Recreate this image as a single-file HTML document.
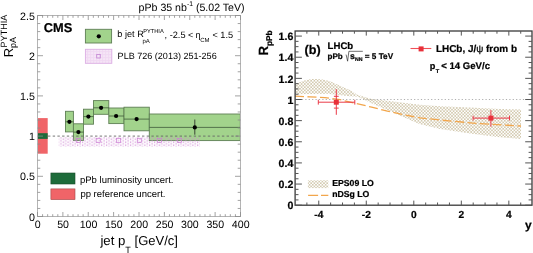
<!DOCTYPE html>
<html><head><meta charset="utf-8"><style>
html,body{margin:0;padding:0;background:#fff;width:533px;height:253px;overflow:hidden}
svg{display:block;will-change:transform}
text{font-family:"Liberation Sans",sans-serif;fill:#000;text-rendering:geometricPrecision}
text[font-weight="bold"]{stroke:#000;stroke-width:0.22px}
</style></head><body>
<svg width="533" height="253" viewBox="0 0 533 253">
<defs>
<pattern id="pinkdots" width="4.8" height="3" patternUnits="userSpaceOnUse" x="0.3" y="0.6">
<rect x="0" y="0" width="1.2" height="1.2" fill="#d088d4"/><rect x="2.4" y="1.5" width="1.2" height="1.2" fill="#d088d4"/>
</pattern>
<pattern id="pinkdense" width="3" height="3" patternUnits="userSpaceOnUse" x="0.5" y="0.5">
<rect x="0" y="0" width="3" height="3" fill="#f0d8f2"/><rect x="1" y="1" width="1.2" height="1.2" fill="#fff"/>
</pattern>
<pattern id="khaki" width="3.2" height="3.2" patternUnits="userSpaceOnUse">
<rect x="0" y="0" width="1.6" height="1.6" fill="#d3cab0"/><rect x="1.6" y="1.6" width="1.6" height="1.6" fill="#d3cab0"/>
</pattern>
</defs>
<rect x="37.5" y="118.1" width="10.2" height="35.6" fill="#f06468"/>
<rect x="37.5" y="133.2" width="10.2" height="5.7" fill="#1d6b3a"/>
<rect x="65.5" y="111.3" width="7.9" height="20.6" fill="#a2d38c" stroke="#5f7f55" stroke-width="0.9"/>
<rect x="73.4" y="123.8" width="10.1" height="16.6" fill="#a2d38c" stroke="#5f7f55" stroke-width="0.9"/>
<rect x="83.5" y="109.2" width="10.0" height="15.0" fill="#a2d38c" stroke="#5f7f55" stroke-width="0.9"/>
<rect x="93.5" y="100.6" width="15.3" height="13.7" fill="#a2d38c" stroke="#5f7f55" stroke-width="0.9"/>
<rect x="108.8" y="108.0" width="15.2" height="15.6" fill="#a2d38c" stroke="#5f7f55" stroke-width="0.9"/>
<rect x="124.0" y="107.2" width="25.3" height="23.6" fill="#a2d38c" stroke="#5f7f55" stroke-width="0.9"/>
<rect x="149.3" y="114.0" width="91.0" height="26.6" fill="#a2d38c" stroke="#5f7f55" stroke-width="0.9"/>
<rect x="58.8" y="137" width="141.1" height="9.6" fill="url(#pinkdots)"/>
<line x1="48" y1="136.1" x2="240.5" y2="136.1" stroke="#666" stroke-width="0.9" stroke-dasharray="2.4 2.3"/>
<line x1="65.5" y1="121.8" x2="73.4" y2="121.8" stroke="#3f5a3a" stroke-width="0.8"/>
<line x1="73.4" y1="132.1" x2="83.5" y2="132.1" stroke="#3f5a3a" stroke-width="0.8"/>
<line x1="83.5" y1="116.6" x2="93.5" y2="116.6" stroke="#3f5a3a" stroke-width="0.8"/>
<line x1="93.5" y1="107.8" x2="108.8" y2="107.8" stroke="#3f5a3a" stroke-width="0.8"/>
<line x1="108.8" y1="116.0" x2="124.0" y2="116.0" stroke="#3f5a3a" stroke-width="0.8"/>
<line x1="124.0" y1="119.1" x2="149.3" y2="119.1" stroke="#3f5a3a" stroke-width="0.8"/>
<line x1="149.3" y1="127.4" x2="240.3" y2="127.4" stroke="#3f5a3a" stroke-width="0.8"/>
<rect x="76.3" y="138.3" width="4.2" height="4.2" fill="none" stroke="#cc80d4" stroke-width="0.7"/>
<rect x="96.1" y="138.3" width="4.2" height="4.2" fill="none" stroke="#cc80d4" stroke-width="0.7"/>
<rect x="116.5" y="138.3" width="4.2" height="4.2" fill="none" stroke="#cc80d4" stroke-width="0.7"/>
<rect x="137.3" y="138.3" width="4.2" height="4.2" fill="none" stroke="#cc80d4" stroke-width="0.7"/>
<rect x="157.3" y="138.3" width="4.2" height="4.2" fill="none" stroke="#cc80d4" stroke-width="0.7"/>
<rect x="177.4" y="138.3" width="4.2" height="4.2" fill="none" stroke="#cc80d4" stroke-width="0.7"/>
<line x1="194.8" y1="119.5" x2="194.8" y2="134.7" stroke="#222" stroke-width="0.8"/>
<circle cx="69.4" cy="121.8" r="2.1" fill="#000"/>
<circle cx="78.4" cy="132.1" r="2.1" fill="#000"/>
<circle cx="88.4" cy="116.6" r="2.1" fill="#000"/>
<circle cx="101.1" cy="107.8" r="2.1" fill="#000"/>
<circle cx="116.1" cy="116.0" r="2.1" fill="#000"/>
<circle cx="136.6" cy="119.1" r="2.1" fill="#000"/>
<circle cx="194.8" cy="127.4" r="2.1" fill="#000"/>
<rect x="37.5" y="15.5" width="203.0" height="201.0" fill="none" stroke="#b4b4b4" stroke-width="1"/>
<path d="M37.50 216.5v-4.5M37.50 15.5v4.5M42.58 216.5v-2.3M42.58 15.5v2.3M47.65 216.5v-2.3M47.65 15.5v2.3M52.73 216.5v-2.3M52.73 15.5v2.3M57.80 216.5v-2.3M57.80 15.5v2.3M62.88 216.5v-4.5M62.88 15.5v4.5M67.95 216.5v-2.3M67.95 15.5v2.3M73.03 216.5v-2.3M73.03 15.5v2.3M78.10 216.5v-2.3M78.10 15.5v2.3M83.17 216.5v-2.3M83.17 15.5v2.3M88.25 216.5v-4.5M88.25 15.5v4.5M93.33 216.5v-2.3M93.33 15.5v2.3M98.40 216.5v-2.3M98.40 15.5v2.3M103.47 216.5v-2.3M103.47 15.5v2.3M108.55 216.5v-2.3M108.55 15.5v2.3M113.62 216.5v-4.5M113.62 15.5v4.5M118.70 216.5v-2.3M118.70 15.5v2.3M123.78 216.5v-2.3M123.78 15.5v2.3M128.85 216.5v-2.3M128.85 15.5v2.3M133.93 216.5v-2.3M133.93 15.5v2.3M139.00 216.5v-4.5M139.00 15.5v4.5M144.07 216.5v-2.3M144.07 15.5v2.3M149.15 216.5v-2.3M149.15 15.5v2.3M154.22 216.5v-2.3M154.22 15.5v2.3M159.30 216.5v-2.3M159.30 15.5v2.3M164.38 216.5v-4.5M164.38 15.5v4.5M169.45 216.5v-2.3M169.45 15.5v2.3M174.53 216.5v-2.3M174.53 15.5v2.3M179.60 216.5v-2.3M179.60 15.5v2.3M184.68 216.5v-2.3M184.68 15.5v2.3M189.75 216.5v-4.5M189.75 15.5v4.5M194.82 216.5v-2.3M194.82 15.5v2.3M199.90 216.5v-2.3M199.90 15.5v2.3M204.97 216.5v-2.3M204.97 15.5v2.3M210.05 216.5v-2.3M210.05 15.5v2.3M215.12 216.5v-4.5M215.12 15.5v4.5M220.20 216.5v-2.3M220.20 15.5v2.3M225.28 216.5v-2.3M225.28 15.5v2.3M230.35 216.5v-2.3M230.35 15.5v2.3M235.43 216.5v-2.3M235.43 15.5v2.3M240.50 216.5v-4.5M240.50 15.5v4.5M37.5 216.50h5.5M240.5 216.50h-5.5M37.5 208.46h2.8M240.5 208.46h-2.8M37.5 200.42h2.8M240.5 200.42h-2.8M37.5 192.38h2.8M240.5 192.38h-2.8M37.5 184.34h2.8M240.5 184.34h-2.8M37.5 176.30h5.5M240.5 176.30h-5.5M37.5 168.26h2.8M240.5 168.26h-2.8M37.5 160.22h2.8M240.5 160.22h-2.8M37.5 152.18h2.8M240.5 152.18h-2.8M37.5 144.14h2.8M240.5 144.14h-2.8M37.5 136.10h5.5M240.5 136.10h-5.5M37.5 128.06h2.8M240.5 128.06h-2.8M37.5 120.02h2.8M240.5 120.02h-2.8M37.5 111.98h2.8M240.5 111.98h-2.8M37.5 103.94h2.8M240.5 103.94h-2.8M37.5 95.90h5.5M240.5 95.90h-5.5M37.5 87.86h2.8M240.5 87.86h-2.8M37.5 79.82h2.8M240.5 79.82h-2.8M37.5 71.78h2.8M240.5 71.78h-2.8M37.5 63.74h2.8M240.5 63.74h-2.8M37.5 55.70h5.5M240.5 55.70h-5.5M37.5 47.66h2.8M240.5 47.66h-2.8M37.5 39.62h2.8M240.5 39.62h-2.8M37.5 31.58h2.8M240.5 31.58h-2.8M37.5 23.54h2.8M240.5 23.54h-2.8M37.5 15.50h5.5M240.5 15.50h-5.5" stroke="#8c8c8c" stroke-width="0.8" fill="none"/>
<text x="34.9" y="220.5" font-size="10.7" text-anchor="end" font-weight="normal" >0</text>
<text x="34.9" y="180.3" font-size="10.7" text-anchor="end" font-weight="normal" >0.5</text>
<text x="34.9" y="140.1" font-size="10.7" text-anchor="end" font-weight="normal" >1</text>
<text x="34.9" y="99.9" font-size="10.7" text-anchor="end" font-weight="normal" >1.5</text>
<text x="34.9" y="59.7" font-size="10.7" text-anchor="end" font-weight="normal" >2</text>
<text x="34.9" y="19.5" font-size="10.7" text-anchor="end" font-weight="normal" >2.5</text>
<text x="37.7" y="228.4" font-size="10.6" text-anchor="middle" font-weight="normal" >0</text>
<text x="63.1" y="228.4" font-size="10.6" text-anchor="middle" font-weight="normal" >50</text>
<text x="88.5" y="228.4" font-size="10.6" text-anchor="middle" font-weight="normal" >100</text>
<text x="113.8" y="228.4" font-size="10.6" text-anchor="middle" font-weight="normal" >150</text>
<text x="139.2" y="228.4" font-size="10.6" text-anchor="middle" font-weight="normal" >200</text>
<text x="164.6" y="228.4" font-size="10.6" text-anchor="middle" font-weight="normal" >250</text>
<text x="189.9" y="228.4" font-size="10.6" text-anchor="middle" font-weight="normal" >300</text>
<text x="215.3" y="228.4" font-size="10.6" text-anchor="middle" font-weight="normal" >350</text>
<text x="240.7" y="228.4" font-size="10.6" text-anchor="middle" font-weight="normal" >400</text>
<text x="43.8" y="31.5" font-size="12.8" text-anchor="start" font-weight="bold" >CMS</text>
<text x="138.6" y="11" font-size="10.6">pPb 35 nb<tspan dy="-4.6" font-size="6.8">-1</tspan><tspan dy="4.6" font-size="10.6"> (5.02 TeV)</tspan></text>
<rect x="85.4" y="29.3" width="26.2" height="13.7" fill="#a2d38c" stroke="#5f7f55" stroke-width="0.9"/>
<circle cx="98.8" cy="36.3" r="2.1" fill="#000"/>
<rect x="85.4" y="49.3" width="26.4" height="14" fill="url(#pinkdense)" stroke="#dcaee4" stroke-width="0.9"/>
<rect x="96.7" y="54.4" width="3.6" height="3.6" fill="none" stroke="#c488d4" stroke-width="0.85"/>
<text x="117.3" y="36.8" font-size="9.2">b jet R</text>
<text x="143.2" y="33.4" font-size="5.7">PYTHIA</text>
<text x="142.5" y="42.9" font-size="6">pA</text>
<text x="164.6" y="37.8" font-size="9.2">, -2.5 &lt; <tspan dx="-0.6">η</tspan></text>
<text x="200.2" y="42.4" font-size="6">CM</text>
<text x="212.4" y="37.8" font-size="9.2">&lt; 1.5</text>
<text x="117.6" y="58.7" font-size="9.05">PLB 726 (2013) 251-256</text>
<rect x="50.9" y="173" width="24.1" height="11" fill="#1d6b3a" stroke="#1a4a2a" stroke-width="0.6"/>
<rect x="50.9" y="188.9" width="24.1" height="10.7" fill="#f06468" stroke="#a04848" stroke-width="0.6"/>
<text x="80" y="182.5" font-size="9.5">pPb luminosity uncert.</text>
<text x="80.4" y="197" font-size="9.5">pp reference uncert.</text>
<text x="100.4" y="245.2" font-size="13.2">jet p</text>
<text x="125.3" y="253.3" font-size="9">T</text>
<text x="134.6" y="245.2" font-size="13">[GeV/c]</text>
<g transform="translate(12.6,57.3) rotate(-90)"><text x="0" y="0" font-size="13">R</text><text x="9.9" y="-5.4" font-size="9.1">PYTHIA</text><text x="9.2" y="3.4" font-size="9">pA</text></g>
<polygon points="295.0,84.6 299.0,82.4 303.0,81.1 307.0,79.8 312.0,79.1 317.5,78.9 324.5,79.7 330.5,81.5 337.5,84.6 343.0,87.2 349.5,89.7 357.4,94.8 371.6,98.9 387.4,100.8 403.2,102.8 420.0,104.8 440.0,106.2 470.0,107.4 500.0,108.9 521.0,109.4 521.0,139.0 500.0,137.2 470.0,133.5 440.0,129.0 420.0,124.3 403.2,117.0 387.4,110.3 371.6,103.2 357.4,96.6 349.5,96.2 341.0,95.2 327.0,93.8 312.0,94.1 295.0,94.2" fill="url(#khaki)"/>
<line x1="295.1" y1="99.5" x2="532.0" y2="99.5" stroke="#999" stroke-width="0.8" stroke-dasharray="1.2 2.2"/>
<polyline points="295.0,96.1 310.0,96.9 325.0,97.6 340.0,99.6 355.8,103.5 371.6,107.1 387.4,111.1 403.2,114.7 420.0,117.8 440.0,120.0 470.0,122.8 490.0,124.3 521.0,126.0" fill="none" stroke="#f2a64c" stroke-width="1.3" stroke-dasharray="9 3.5"/>
<path d="M318.3 102.2H354.8M318.3 99.8v4.8M354.8 99.8v4.8M336.3 89.2V114.8M333.90000000000003 96.3h4.8M333.90000000000003 108.1h4.8" stroke="#ea3a48" stroke-width="1" fill="none"/>
<rect x="333.8" y="99.7" width="5" height="5" fill="#e8303a"/>
<path d="M473.1 118.1H509.5M473.1 115.69999999999999v4.8M509.5 115.69999999999999v4.8M490.9 110.1V126.7" stroke="#ea3a48" stroke-width="1" fill="none"/>
<rect x="488.4" y="115.6" width="5" height="5" fill="#e8303a"/>
<rect x="295.1" y="31.0" width="236.9" height="174.2" fill="none" stroke="#3a3a3a" stroke-width="1.3"/>
<path d="M306.88 205.2v-2.7M306.88 31.0v2.7M318.76 205.2v-4.6M318.76 31.0v4.6M330.64 205.2v-2.7M330.64 31.0v2.7M342.52 205.2v-2.7M342.52 31.0v2.7M354.40 205.2v-2.7M354.40 31.0v2.7M366.28 205.2v-4.6M366.28 31.0v4.6M378.16 205.2v-2.7M378.16 31.0v2.7M390.04 205.2v-2.7M390.04 31.0v2.7M401.92 205.2v-2.7M401.92 31.0v2.7M413.80 205.2v-4.6M413.80 31.0v4.6M425.68 205.2v-2.7M425.68 31.0v2.7M437.56 205.2v-2.7M437.56 31.0v2.7M449.44 205.2v-2.7M449.44 31.0v2.7M461.32 205.2v-4.6M461.32 31.0v4.6M473.20 205.2v-2.7M473.20 31.0v2.7M485.08 205.2v-2.7M485.08 31.0v2.7M496.96 205.2v-2.7M496.96 31.0v2.7M508.84 205.2v-4.6M508.84 31.0v4.6M520.72 205.2v-2.7M520.72 31.0v2.7M295.1 205.20h6.8M532.0 205.20h-6.8M295.1 199.91h3.4M532.0 199.91h-3.4M295.1 194.63h3.4M532.0 194.63h-3.4M295.1 189.34h3.4M532.0 189.34h-3.4M295.1 184.06h6.8M532.0 184.06h-6.8M295.1 178.77h3.4M532.0 178.77h-3.4M295.1 173.49h3.4M532.0 173.49h-3.4M295.1 168.20h3.4M532.0 168.20h-3.4M295.1 162.92h6.8M532.0 162.92h-6.8M295.1 157.63h3.4M532.0 157.63h-3.4M295.1 152.35h3.4M532.0 152.35h-3.4M295.1 147.06h3.4M532.0 147.06h-3.4M295.1 141.78h6.8M532.0 141.78h-6.8M295.1 136.50h3.4M532.0 136.50h-3.4M295.1 131.21h3.4M532.0 131.21h-3.4M295.1 125.92h3.4M532.0 125.92h-3.4M295.1 120.64h6.8M532.0 120.64h-6.8M295.1 115.35h3.4M532.0 115.35h-3.4M295.1 110.07h3.4M532.0 110.07h-3.4M295.1 104.78h3.4M532.0 104.78h-3.4M295.1 99.50h6.8M532.0 99.50h-6.8M295.1 94.21h3.4M532.0 94.21h-3.4M295.1 88.93h3.4M532.0 88.93h-3.4M295.1 83.64h3.4M532.0 83.64h-3.4M295.1 78.36h6.8M532.0 78.36h-6.8M295.1 73.07h3.4M532.0 73.07h-3.4M295.1 67.79h3.4M532.0 67.79h-3.4M295.1 62.50h3.4M532.0 62.50h-3.4M295.1 57.22h6.8M532.0 57.22h-6.8M295.1 51.93h3.4M532.0 51.93h-3.4M295.1 46.65h3.4M532.0 46.65h-3.4M295.1 41.36h3.4M532.0 41.36h-3.4M295.1 36.08h6.8M532.0 36.08h-6.8" stroke="#555" stroke-width="1.0" fill="none"/>
<text x="293.3" y="209.4" font-size="10.6" text-anchor="end" font-weight="bold" >0</text>
<text x="293.3" y="188.3" font-size="10.6" text-anchor="end" font-weight="bold" >0.2</text>
<text x="293.3" y="167.1" font-size="10.6" text-anchor="end" font-weight="bold" >0.4</text>
<text x="293.3" y="146.0" font-size="10.6" text-anchor="end" font-weight="bold" >0.6</text>
<text x="293.3" y="124.8" font-size="10.6" text-anchor="end" font-weight="bold" >0.8</text>
<text x="293.3" y="103.7" font-size="10.6" text-anchor="end" font-weight="bold" >1</text>
<text x="293.3" y="82.6" font-size="10.6" text-anchor="end" font-weight="bold" >1.2</text>
<text x="293.3" y="61.4" font-size="10.6" text-anchor="end" font-weight="bold" >1.4</text>
<text x="293.3" y="40.3" font-size="10.6" text-anchor="end" font-weight="bold" >1.6</text>
<text x="318.8" y="217.7" font-size="10.2" text-anchor="middle" font-weight="bold" >-4</text>
<text x="366.3" y="217.7" font-size="10.2" text-anchor="middle" font-weight="bold" >-2</text>
<text x="413.8" y="217.7" font-size="10.2" text-anchor="middle" font-weight="bold" >0</text>
<text x="461.3" y="217.7" font-size="10.2" text-anchor="middle" font-weight="bold" >2</text>
<text x="508.8" y="217.7" font-size="10.2" text-anchor="middle" font-weight="bold" >4</text>
<text x="531.7" y="229" font-size="12" text-anchor="end" font-weight="bold" >y</text>
<g transform="translate(268.3,55.5) rotate(-90)"><text x="0" y="0" font-size="13.3" font-weight="bold">R</text><text x="9.4" y="3.2" font-size="8.4" font-weight="bold">pPb</text></g>
<text x="304.6" y="54.3" font-size="12.6" text-anchor="start" font-weight="bold" >(b)</text>
<text x="327.6" y="48.5" font-size="9.6" text-anchor="start" font-weight="bold" >LHCb</text>
<text x="327.5" y="58.9" font-size="8.1" font-weight="bold">pPb</text>
<path d="M346.1 54.6L347.6 61.2L348.9 51.3H362.8" stroke="#222" stroke-width="0.65" fill="none"/>
<text x="350" y="59" font-size="8.8" font-weight="bold">s</text>
<text x="355" y="61.3" font-size="5.2" font-weight="bold">NN</text>
<text x="364.8" y="58.9" font-size="8.2" font-weight="bold">= 5 TeV</text>
<path d="M410.5 48.5H431.3" stroke="#f05058" stroke-width="1.1"/>
<rect x="418.6" y="46.4" width="5" height="5" fill="#e8303a"/>
<text x="435.9" y="51.5" font-size="9.95" font-weight="bold">LHCb, J/<tspan font-weight="normal">ψ</tspan> from b</text>
<text x="429.8" y="68.6" font-size="9.2" font-weight="bold">p</text>
<text x="435.8" y="73.4" font-size="5.6" font-weight="bold">T</text>
<text x="441.2" y="68.6" font-size="9.6" font-weight="bold">&lt; 14 GeV/c</text>
<rect x="307.9" y="180.3" width="20.4" height="7.8" fill="url(#khaki)"/>
<path d="M308.1 195.4H318.1M321 195.4H328.3" stroke="#f2a64c" stroke-width="1.3"/>
<text x="332.2" y="186.2" font-size="8.7" text-anchor="start" font-weight="bold" >EPS09 LO</text>
<text x="332.2" y="196.7" font-size="8.7" text-anchor="start" font-weight="bold" >nDSg LO</text>
</svg></body></html>
